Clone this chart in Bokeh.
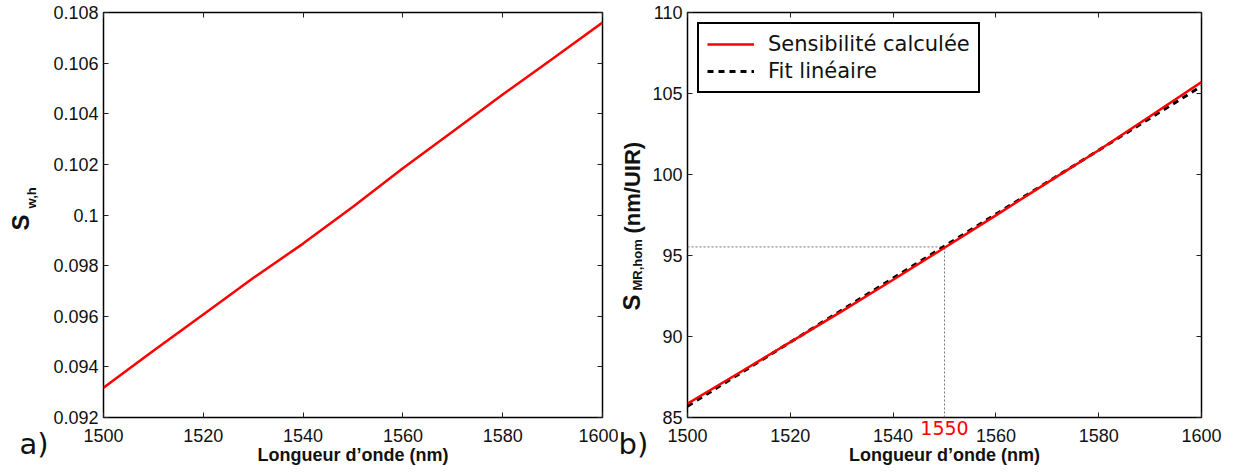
import math
from bokeh.plotting import figure
from bokeh.layouts import row
from bokeh.models import (LinearAxis, FixedTicker, CustomJSTickFormatter, Label,
                          Range1d, Legend, LegendItem)
from bokeh.embed import file_html
from bokeh.resources import INLINE

# ---------------- data ----------------
wavelength = [1500, 1510, 1520, 1530, 1540, 1550, 1560, 1570, 1580, 1590, 1600]
s_wh = [0.09318, 0.09464, 0.09607, 0.09751, 0.09887, 0.10033, 0.10185, 0.1033,
        0.10476, 0.10617, 0.1076]
s_mr = [85.85, 87.75, 89.65, 91.55, 93.5, 95.48, 97.48, 99.5, 101.5, 103.6, 105.7]
fit_x = [1500, 1600]
fit_y = [85.7, 105.45]
marker_x = 1550
marker_y = 95.53

x_ticks = [1500, 1520, 1540, 1560, 1580, 1600]
y_ticks_a = [0.092, 0.094, 0.096, 0.098, 0.1, 0.102, 0.104, 0.106, 0.108]
y_ticks_b = [85, 90, 95, 100, 105, 110]

xlabel = "Longueur d\u2019onde (nm)"

TICK_FONT = "Liberation Sans"
LEG_FONT = "DejaVu Sans"
H = 473
TOP = 12
BOTTOM = 56


def style(p, yticks, yfmt=None):
    p.xaxis.ticker = FixedTicker(ticks=x_ticks)
    p.yaxis.ticker = FixedTicker(ticks=yticks)
    if yfmt is not None:
        p.yaxis.formatter = yfmt
    for ax in p.xaxis + p.yaxis:
        ax.major_tick_in = 5
        ax.major_tick_out = 0
        ax.minor_tick_line_color = None
        ax.axis_line_color = None
        ax.major_tick_line_color = "#222222"
        ax.major_label_text_font = TICK_FONT
        ax.major_label_text_font_size = "18px"
        ax.major_label_text_color = "#111111"
    p.xaxis.major_label_standoff = 11
    p.yaxis.major_label_standoff = 5
    p.xaxis.axis_label = xlabel
    p.xaxis.axis_label_text_font = TICK_FONT
    p.xaxis.axis_label_text_font_style = "bold"
    p.xaxis.axis_label_text_font_size = "18px"
    p.xaxis.axis_label_standoff = 0
    p.xaxis.axis_label_text_color = "#111111"
    # mirrored ticks on top and right
    empty = CustomJSTickFormatter(code="return ''")
    top = LinearAxis(ticker=FixedTicker(ticks=x_ticks), formatter=empty)
    right = LinearAxis(ticker=FixedTicker(ticks=yticks), formatter=empty)
    for ax in (top, right):
        ax.major_tick_in = 5
        ax.major_tick_out = 0
        ax.minor_tick_line_color = None
        ax.axis_line_color = None
        ax.major_tick_line_color = "#222222"
        ax.major_label_standoff = 0
        ax.major_label_text_font_size = "1px"
    p.add_layout(top, "above")
    p.add_layout(right, "right")
    p.xgrid.grid_line_color = None
    p.ygrid.grid_line_color = None
    p.outline_line_color = "black"
    p.outline_line_width = 1.5
    p.background_fill_color = "white"
    p.border_fill_color = "white"


def label_strip(width):
    f = figure(width=width, height=H, output_backend="svg", toolbar_location=None,
               x_range=Range1d(0, width), y_range=Range1d(H, 0),
               x_axis_location=None, y_axis_location=None,
               min_border=0, min_border_left=0, min_border_right=0,
               min_border_top=0, min_border_bottom=0, frame_align=False)
    f.xgrid.grid_line_color = None
    f.ygrid.grid_line_color = None
    f.outline_line_color = None
    return f


def vlabel(f, x, y, text, size):
    f.add_layout(Label(x=x, y=y, text=text, angle=math.pi / 2,
                       text_align="left", text_baseline="middle",
                       text_font=TICK_FONT, text_font_style="bold",
                       text_font_size=size, text_color="#111111"))


# ---------------- strip with left y label ----------------
sa = label_strip(50)
vlabel(sa, 20, 230, "S", "24px")
vlabel(sa, 31, 208, "w,h", "13px")
sa.add_layout(Label(x=19, y=443, text="a)", text_align="left", text_baseline="middle",
                    text_font=LEG_FONT, text_font_size="29px", text_color="#111111"))

# ---------------- left panel ----------------
p1 = figure(width=568, height=H, output_backend="svg", toolbar_location=None,
            x_range=Range1d(1500, 1600), y_range=Range1d(0.092, 0.108),
            min_border_left=52, min_border_right=16, min_border_top=TOP,
            min_border_bottom=BOTTOM)
style(p1, y_ticks_a, CustomJSTickFormatter(code="return String(+tick.toFixed(3))"))
p1.line(wavelength, s_wh, line_color="red", line_width=2.5)

# ---------------- strip with right y label ----------------
sb = label_strip(30)
vlabel(sb, 13, 310, "S", "24px")
vlabel(sb, 19, 290, "MR,hom", "13px")
vlabel(sb, 14, 233, "(nm/UIR)", "22px")
sb.add_layout(Label(x=0, y=443, text="b)", text_align="left", text_baseline="middle",
                    text_font=LEG_FONT, text_font_size="29px", text_color="#111111"))

# ---------------- right panel ----------------
p2 = figure(width=586, height=H, output_backend="svg", toolbar_location=None,
            x_range=Range1d(1500, 1600), y_range=Range1d(85, 110),
            min_border_left=39, min_border_right=33, min_border_top=TOP,
            min_border_bottom=BOTTOM)
style(p2, y_ticks_b)

# guide lines at the marker
p2.line([fit_x[0], marker_x], [marker_y, marker_y], line_color="#777777",
        line_width=1, line_dash="2 2")
p2.line([marker_x, marker_x], [y_ticks_b[0], marker_y], line_color="#777777",
        line_width=1, line_dash="2 2")

r_fit = p2.line(fit_x, fit_y, line_color="black", line_width=3, line_dash="6 5")
r_calc = p2.line(wavelength, s_mr, line_color="red", line_width=2.5)

legend = Legend(items=[LegendItem(label="Sensibilité calculée", renderers=[r_calc]),
                       LegendItem(label="Fit linéaire", renderers=[r_fit])],
                location="top_left", margin=10, padding=8, spacing=3,
                glyph_width=47, glyph_height=24, label_height=24,
                label_standoff=14, label_text_font=LEG_FONT,
                label_text_font_size="21px", label_text_color="#111111",
                border_line_color="black", border_line_width=2,
                border_line_alpha=1.0, background_fill_alpha=1.0)
p2.add_layout(legend, "center")

# red wavelength marker label, pulled up into the tick-label row
mark_axis = LinearAxis(ticker=FixedTicker(ticks=[marker_x]))
mark_axis.major_tick_in = 0
mark_axis.major_tick_out = 0
mark_axis.minor_tick_line_color = None
mark_axis.axis_line_color = None
mark_axis.major_tick_line_color = None
mark_axis.major_label_standoff = -47
mark_axis.major_label_text_font = LEG_FONT
mark_axis.major_label_text_font_size = "19px"
mark_axis.major_label_text_color = "red"
p2.add_layout(mark_axis, "below")

layout = row(sa, p1, sb, p2)
open("out.html", "w").write(file_html(layout, INLINE))
